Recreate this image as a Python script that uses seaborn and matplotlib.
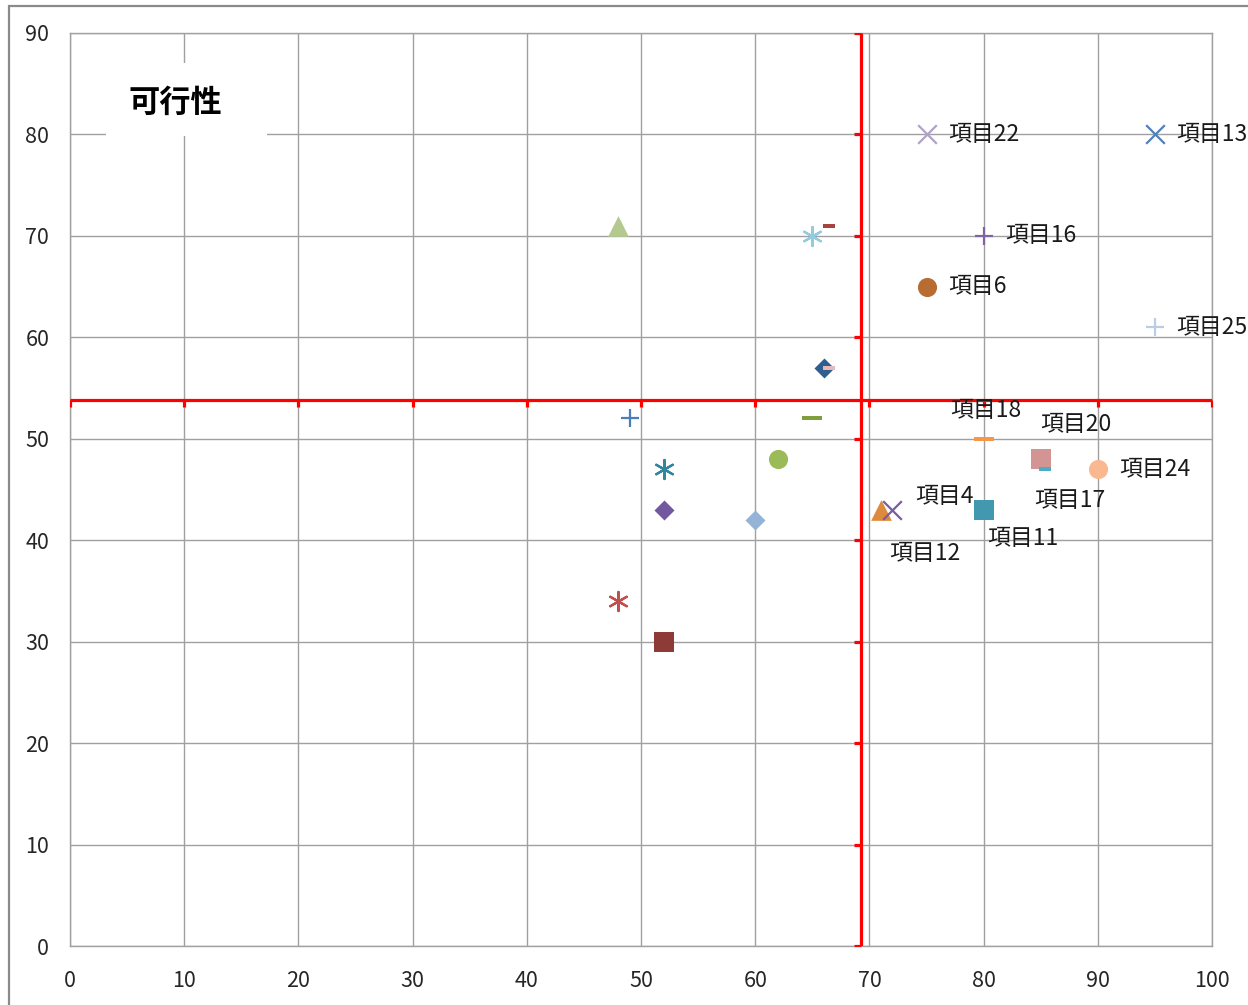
import numpy as np
import pandas as pd
import seaborn as sns
import matplotlib.pyplot as plt
from matplotlib.patches import Rectangle

# data
x_vals = [48, 65, 66.5, 66, 66.5, 49, 65, 52, 62, 52, 60, 48, 52,
          71, 72, 80, 80, 85, 85.4, 90, 75, 95, 80, 75, 95]
y_vals = [71, 70, 71, 57, 57, 52, 52, 47, 48, 43, 42, 34, 30,
          43, 43, 43, 50, 48, 47, 47, 80, 80, 70, 65, 61]
labels = ['', '', '', '', '', '', '', '', '', '', '', '', '',
          '項目12', '項目4', '項目11', '項目18', '項目20', '項目17', '項目24',
          '項目22', '項目13', '項目16', '項目6', '項目25']
x_ticks = list(range(0, 101, 10))
y_ticks = list(range(0, 91, 10))
x_split = 69.3
y_split = 53.8
title_text = '可行性'

# marker styles per point (same order as above)
dash = [(-1, -0.25), (1, -0.25), (1, 0.25), (-1, 0.25), (-1, -0.25)]
sdash = [(-1, -0.45), (1, -0.45), (1, 0.45), (-1, 0.45), (-1, -0.45)]
aster = (6, 2, 0)
styles = [
    ('^', '#B3C98F', 222), (aster, '#93CDDD', 190), (sdash, '#A9433F', 63),
    ('D', '#2F5E8F', 104), (sdash, '#E6B9B8', 63), ('+', '#4A7EBB', 175),
    (dash, '#7F9F3F', 188), (aster, '#31859C', 190), ('o', '#9BBB59', 190),
    ('D', '#71589F', 104), ('D', '#95B3D7', 104), (aster, '#C0504D', 190),
    ('s', '#8E3A37', 190), ('^', '#DD8A3C', 222), ('x', '#7A5C9F', 180),
    ('s', '#4198AF', 190), (dash, '#F79646', 188), ('s', '#D39494', 190),
    (sdash, '#4BACC6', 63), ('o', '#F9B890', 190), ('x', '#B3A2C7', 180),
    ('x', '#4F81BD', 180), ('+', '#8064A2', 175), ('o', '#B96C2F', 190),
    ('+', '#B9CDE5', 175),
]
# label offsets (text left edge relative to point)
label_off = {'項目18': (-2.9, 2.8), '項目20': (0.0, 3.4), '項目4': (2.0, 1.3),
             '項目17': (-1.0, -3.1), '項目11': (0.3, -2.8), '項目12': (0.7, -4.3)}

df = pd.DataFrame({'x': x_vals, 'y': y_vals, 'label': labels})

sns.set_theme(style='whitegrid')
plt.rcParams['font.family'] = ['Noto Sans CJK TC', 'DejaVu Sans']

fig, ax = plt.subplots(figsize=(12.48, 10.05), dpi=100)
fig.subplots_adjust(left=0.0561, right=0.9712, bottom=0.0587, top=0.9672)

# quadrant split lines with their little ticks
ax.plot([x_split, x_split], [0, 90], color='red', lw=2.3, zorder=3,
        solid_capstyle='butt')
ax.plot([0, 100], [y_split, y_split], color='red', lw=2.3, zorder=3,
        solid_capstyle='butt')
ax.plot([x_split] * len(y_ticks), y_ticks, ls='none', marker=0, ms=5,
        mew=2.3, color='red', zorder=3)
ax.plot(x_ticks, [y_split] * len(x_ticks), ls='none', marker=3, ms=5,
        mew=2.3, color='red', zorder=3)

for i, row in df.iterrows():
    m, c, s = styles[i]
    mk = m if isinstance(m, (str, tuple)) else np.array(m)
    filled = m in ('^', 'D', 's', 'o') or isinstance(m, list)
    if filled:
        sns.scatterplot(x=[row['x']], y=[row['y']], marker=mk, color=c, s=s,
                        linewidth=0, ax=ax, zorder=4)
    else:
        sns.scatterplot(x=[row['x']], y=[row['y']], marker=mk, color=c, s=s,
                        linewidth=1.6, ax=ax, zorder=4)
    if row['label']:
        dx, dy = label_off.get(row['label'], (1.9, 0.0))
        ax.text(row['x'] + dx, row['y'] + dy, row['label'], fontsize=16.5,
                color='#1a1a1a', ha='left', va='center', zorder=5)

# title box inside plot area
ax.add_patch(Rectangle((3.15, 79.85), 14.1, 7.15, facecolor='white',
                       edgecolor='none', zorder=2))
ax.text(9.2, 83.1, title_text, fontsize=22.5, fontweight='bold', color='black',
        ha='center', va='center', zorder=3)

ax.set_xlim(0, 100)
ax.set_ylim(0, 90)
ax.set_xticks(x_ticks)
ax.set_yticks(y_ticks)
ax.set_xlabel('')
ax.set_ylabel('')
ax.grid(True, color='#A0A0A0', lw=1)
for sp in ax.spines.values():
    sp.set_color('#A0A0A0')
    sp.set_linewidth(1)
ax.tick_params(axis='both', length=0, labelsize=15.5, labelcolor='#262626')
ax.tick_params(axis='x', pad=17)
ax.tick_params(axis='y', pad=15)

# outer chart border (left and top visible)
fig.patches.append(Rectangle((0.007, -0.05), 1.2, 1.044, transform=fig.transFigure,
                             fill=False, edgecolor='#8A8A8A', lw=1.6))

fig.savefig('out.png', dpi=100)
